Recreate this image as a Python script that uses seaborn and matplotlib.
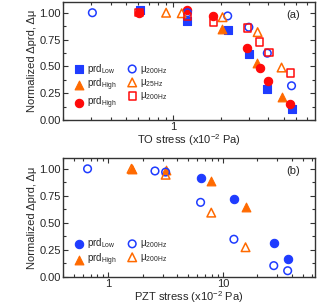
import matplotlib
matplotlib.use("Agg")
import matplotlib.pyplot as plt
import seaborn as sns
from matplotlib.ticker import LogLocator, NullFormatter, FixedLocator, FuncFormatter

sns.set_style("ticks")
plt.rcParams['font.family'] = ['Liberation Sans', 'DejaVu Sans']
plt.rcParams['mathtext.fontset'] = 'custom'
plt.rcParams['mathtext.rm'] = 'Liberation Sans'
plt.rcParams['mathtext.it'] = 'Liberation Sans:italic'

BLUE = '#1f3cff'
ORANGE = '#ff6a00'
RED = '#ff0a0a'

# panel (a): TO stress
a_prd_low_x = [0.616, 1.226, 2.21, 3.01, 3.94, 5.66]
a_prd_low_y = [1.03, 0.925, 0.84, 0.617, 0.288, 0.105]
a_prd_high_x = [2.04, 3.40, 4.85]
a_prd_high_y = [0.846, 0.536, 0.214]
a_prd_high2_x = [0.607, 1.226, 1.79, 2.94, 3.54, 3.99, 5.47]
a_prd_high2_y = [1.0, 1.03, 0.973, 0.67, 0.484, 0.359, 0.152]
a_mu200_x = [0.307, 1.23, 2.21, 3.01, 3.94, 5.61]
a_mu200_y = [1.0, 1.0, 0.97, 0.865, 0.623, 0.319]
a_mu25_x = [0.90, 1.13, 2.05, 3.42, 4.85]
a_mu25_y = [1.0, 0.995, 0.958, 0.819, 0.489]
a_mu200b_x = [0.607, 1.226, 1.79, 2.94, 3.50, 4.03, 5.53]
a_mu200b_y = [1.0, 0.963, 0.908, 0.856, 0.726, 0.629, 0.437]

# panel (b): PZT stress
b_prd_low_x = [6.39, 12.5, 27.9, 36.9]
b_prd_low_y = [0.914, 0.722, 0.312, 0.167]
b_prd_high_x = [1.59, 3.16, 7.92, 15.8]
b_prd_high_y = [1.0, 0.99, 0.892, 0.651]
b_mu200_x = [0.656, 2.55, 3.16, 6.39, 12.5, 27.9, 36.9]
b_mu200_y = [1.0, 0.98, 0.97, 0.69, 0.349, 0.105, 0.058]
b_mu200b_x = [1.59, 3.16, 7.92, 15.8]
b_mu200b_y = [1.0, 0.945, 0.595, 0.275]

fig = plt.figure(figsize=(3.32, 3.06), dpi=100)
ax1 = fig.add_axes([63/332, (306-120)/306, 252/332, 118/306])
ax2 = fig.add_axes([63/332, (306-277)/306, 252/332, 119/306])


def filled(ax, x, y, m, c, label, s=32):
    sns.scatterplot(x=x, y=y, marker=m, color=c, edgecolor=c, s=s,
                    linewidth=0.8, ax=ax, label=label, zorder=3)


def hollow(ax, x, y, m, c, label, s=30):
    sns.scatterplot(x=x, y=y, marker=m, color=c, facecolors='none', edgecolor=c,
                    s=s, linewidth=1.1, ax=ax, label=label, zorder=4)


filled(ax1, a_prd_low_x, a_prd_low_y, 's', BLUE, r'prd$_{\mathrm{Low}}$', 28)
filled(ax1, a_prd_high_x, a_prd_high_y, '^', ORANGE, r'prd$_{\mathrm{High}}$', 40)
filled(ax1, a_prd_high2_x, a_prd_high2_y, 'o', RED, r'prd$_{\mathrm{High}}$', 36)
hollow(ax1, a_mu200_x, a_mu200_y, 'o', BLUE, r'μ$_{\mathrm{200Hz}}$')
hollow(ax1, a_mu25_x, a_mu25_y, '^', ORANGE, r'μ$_{\mathrm{25Hz}}$', 38)
hollow(ax1, a_mu200b_x, a_mu200b_y, 's', RED, r'μ$_{\mathrm{200Hz}}$', 28)

filled(ax2, b_prd_low_x, b_prd_low_y, 'o', BLUE, r'prd$_{\mathrm{Low}}$', 36)
filled(ax2, b_prd_high_x, b_prd_high_y, '^', ORANGE, r'prd$_{\mathrm{High}}$', 40)
hollow(ax2, b_mu200_x, b_mu200_y, 'o', BLUE, r'μ$_{\mathrm{200Hz}}$')
hollow(ax2, b_mu200b_x, b_mu200b_y, '^', ORANGE, r'μ$_{\mathrm{200Hz}}$', 38)

for ax, xlim, xlab, tag in [(ax1, (0.2, 7.9), 'TO stress (x10$^{-2}$ Pa)', '(a)'),
                            (ax2, (0.4, 64), 'PZT stress (x10$^{-2}$ Pa)', '(b)')]:
    ax.set_xscale('log')
    ax.set_xlim(*xlim)
    ax.set_ylim(0, 1.1)
    ax.set_yticks([0, 0.25, 0.5, 0.75, 1.0])
    ax.set_yticklabels(['0.00', '0.25', '0.50', '0.75', '1.00'])
    ax.yaxis.set_minor_locator(FixedLocator([0.125, 0.375, 0.625, 0.875]))
    ax.xaxis.set_major_locator(LogLocator(base=10, numticks=10))
    ax.xaxis.set_major_formatter(FuncFormatter(lambda v, p: f"{v:g}"))
    ax.xaxis.set_minor_locator(LogLocator(base=10, subs=range(2, 10), numticks=20))
    ax.xaxis.set_minor_formatter(NullFormatter())
    ax.tick_params(which='both', direction='in', top=True, right=True,
                   labelsize=8, width=0.8, color='#333333')
    ax.tick_params(which='major', length=3.5, pad=1.5)
    ax.tick_params(which='minor', length=2)
    for sp in ax.spines.values():
        sp.set_linewidth(1.0)
        sp.set_color('#333333')
    ax.set_xlabel(xlab, fontsize=8, labelpad=0)
    ax.set_ylabel('Normalized Δprd, Δμ', fontsize=8, labelpad=2)
    ax.text(0.94, 0.93, tag, transform=ax.transAxes, ha='right', va='top', fontsize=8)
    ax.legend(ncol=2, frameon=False, loc='lower left', fontsize=7,
              handletextpad=0.1, columnspacing=0.8, labelspacing=0.15,
              borderaxespad=0.5, markerscale=1.0, handlelength=1.5)

fig.savefig('out.png', dpi=100)
